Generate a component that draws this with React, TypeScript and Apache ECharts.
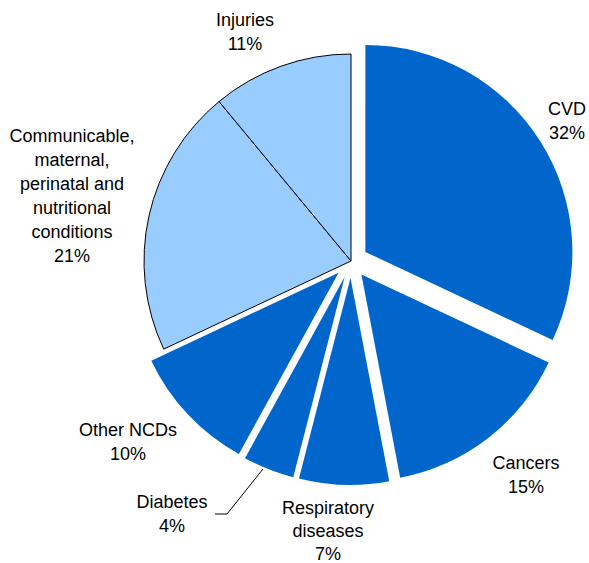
import React, { useEffect, useRef } from 'react';
import * as echarts from 'echarts';

const categories = [
  'CVD',
  'Cancers',
  'Respiratory diseases',
  'Diabetes',
  'Other NCDs',
  'Communicable, maternal, perinatal and nutritional conditions',
  'Injuries',
];
const labelTexts = [
  'CVD',
  'Cancers',
  'Respiratory\ndiseases',
  'Diabetes',
  'Other NCDs',
  'Communicable,\nmaternal,\nperinatal and\nnutritional\nconditions',
  'Injuries',
];
const values = [32, 15, 7, 4, 10, 21, 11];
const isNCD = [true, true, true, true, true, false, false];

// label block centres (layout, not data)
const labelPos: number[][] = [
  [567, 121],
  [526, 475],
  [328, 531],
  [172, 514],
  [128, 442],
  [72, 196],
  [245, 32],
];
const diabetesLine = [
  [263, 469],
  [227, 514],
  [215, 514],
];

const DARK = '#0066CC';
const LIGHT = '#99CCFF';
const FONT = '18px "Liberation Sans", Arial, sans-serif';

export default function App() {
  const ref = useRef<HTMLDivElement>(null);
  useEffect(() => {
    if (!ref.current) return;
    const chart = echarts.init(ref.current, undefined, { renderer: 'svg' });
    const data = values.map((v, i) => {
      const color = isNCD[i] ? DARK : LIGHT;
      const itemStyle = isNCD[i]
        ? { color, borderWidth: 0 }
        : { color, borderColor: '#000', borderWidth: 1 };
      return {
        value: v,
        name: categories[i],
        selected: isNCD[i],
        itemStyle,
        select: { itemStyle },
      };
    });
    const texts = values.map((v, i) => ({
      type: 'text',
      x: labelPos[i][0],
      y: labelPos[i][1],
      silent: true,
      style: {
        text: `${labelTexts[i]}\n${v}%`,
        font: FONT,
        lineHeight: i === 2 ? 23 : 24,
        fill: '#000',
        align: 'center',
        verticalAlign: 'middle',
      },
    }));
    chart.setOption({
      animation: false,
      series: [
        {
          type: 'pie',
          center: [351, 261],
          radius: [0, 207],
          startAngle: 90,
          clockwise: true,
          selectedMode: 'multiple',
          selectedOffset: 17,
          silent: true,
          emphasis: { disabled: true },
          label: { show: false },
          labelLine: { show: false },
          data,
        },
      ],
      graphic: [
        ...texts,
        {
          type: 'polyline',
          silent: true,
          shape: { points: diabetesLine },
          style: { stroke: '#000', lineWidth: 1, fill: 'none' },
        },
      ],
    });
    return () => chart.dispose();
  }, []);
  return (
    <div
      ref={ref}
      style={{ position: 'absolute', left: 0, top: 0, width: 589, height: 563, background: '#fff' }}
    />
  );
}
